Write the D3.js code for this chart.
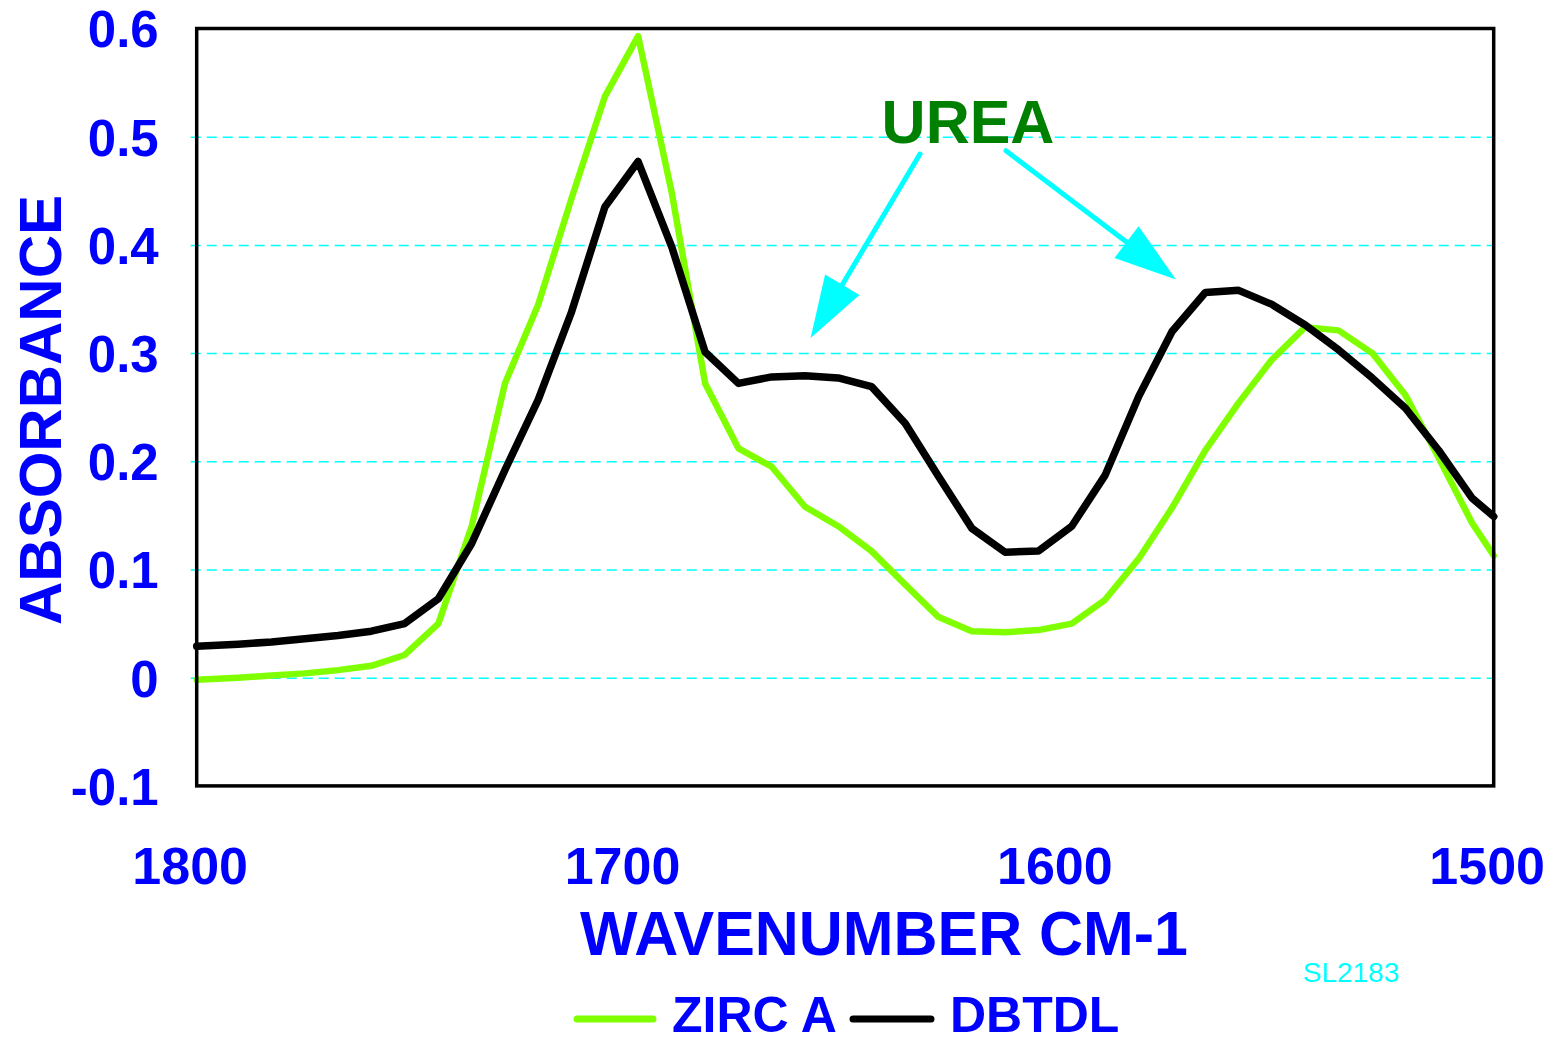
<!DOCTYPE html>
<html>
<head>
<meta charset="utf-8">
<script src="https://cdn.jsdelivr.net/npm/d3@7"></script>
<style>
  body { margin: 0; background: #ffffff; }
  text { font-family: "Liberation Sans", Arial, sans-serif; font-weight: bold; }
</style>
</head>
<body>
<script>
// wavenumbers (cm-1) shared by both spectra
var wavenumbers = [1800, 1790.4, 1782.7, 1775.0, 1767.3, 1759.6, 1751.9, 1744.1, 1736.4, 1728.7,
    1721.0, 1713.3, 1705.6, 1697.9, 1690.1, 1682.4, 1674.7, 1667.0, 1659.3, 1651.6,
    1643.9, 1636.1, 1628.4, 1620.7, 1613.0, 1605.3, 1597.6, 1589.9, 1582.1, 1574.4,
    1566.7, 1559.0, 1551.3, 1543.6, 1535.9, 1528.1, 1520.4, 1512.7, 1505.0, 1500];

var zircA = [-0.002, 0.000, 0.002, 0.004, 0.007, 0.011, 0.021, 0.050, 0.140, 0.272,
    0.345, 0.443, 0.537, 0.593, 0.448, 0.272, 0.212, 0.195, 0.158, 0.140,
    0.117, 0.086, 0.056, 0.043, 0.042, 0.044, 0.050, 0.072, 0.110, 0.157,
    0.210, 0.254, 0.294, 0.324, 0.321, 0.300, 0.261, 0.203, 0.143, 0.113];

var dbtdl = [0.029, 0.031, 0.033, 0.036, 0.039, 0.043, 0.050, 0.073, 0.124, 0.192,
    0.257, 0.338, 0.435, 0.477, 0.398, 0.301, 0.272, 0.278, 0.279, 0.277,
    0.269, 0.235, 0.186, 0.138, 0.116, 0.117, 0.140, 0.187, 0.260, 0.320,
    0.356, 0.358, 0.345, 0.326, 0.303, 0.277, 0.249, 0.210, 0.166, 0.149];

var seriesNames = ["ZIRC A", "DBTDL"];
var xTicks = [1800, 1700, 1600, 1500];
var yTicks = [-0.1, 0, 0.1, 0.2, 0.3, 0.4, 0.5, 0.6];

// arrows pointing at the urea bands: [start wn, start abs, tip wn, tip abs]
var ureaArrows = [[1632.7, 0.484, 1658.0, 0.314], [1612.8, 0.487, 1573.5, 0.368]];

window.onload = function(){
    var w = 1559, h = 1043;
    var left = 196.7, right = 1493.7, top = 28.5, bottom = 785.9;

    var svg = d3.select("body").append("svg")
        .attr("width", w)
        .attr("height", h);

    var x = d3.scaleLinear().domain([1800, 1500]).range([left, right]);
    var y = d3.scaleLinear().domain([-0.1, 0.6]).range([bottom, top]);

    // dashed grid + little ticks
    var grid = svg.append("g")
        .attr("transform", "translate(" + (left - 6) + ",0)")
        .call(d3.axisLeft(y).tickValues(yTicks.filter(function(d){ return d > -0.1 && d < 0.6; }))
            .tickSize(-(right - left + 6)).tickFormat(""));
    grid.select(".domain").remove();
    grid.selectAll("line")
        .attr("stroke", "#00ffff")
        .attr("stroke-width", 1.5)
        .attr("stroke-dasharray", "10,6");

    // y labels
    var yAxis = svg.append("g")
        .attr("transform", "translate(" + left + ",0)")
        .call(d3.axisLeft(y).tickValues(yTicks).tickSize(0).tickPadding(38)
            .tickFormat(function(d){ return d3.format(".1f")(d).replace("0.0", "0").replace("−", "-"); }));
    yAxis.select(".domain").remove();
    yAxis.selectAll("text")
        .attr("fill", "#0000ff")
        .attr("dy", "0.36em")
        .style("font-size", "51px")
        .style("font-family", "Liberation Sans, Arial, sans-serif")
        .style("font-weight", "bold");

    // x labels
    var xAxis = svg.append("g")
        .attr("transform", "translate(0," + bottom + ")")
        .call(d3.axisBottom(x).tickValues(xTicks).tickSize(0).tickFormat(d3.format("d")));
    xAxis.select(".domain").remove();
    xAxis.selectAll("text")
        .attr("fill", "#0000ff")
        .attr("y", 98)
        .attr("dy", 0)
        .attr("dx", -7)
        .style("font-size", "52px")
        .style("font-family", "Liberation Sans, Arial, sans-serif")
        .style("font-weight", "bold");

    // the spectra
    var line = d3.line()
        .x(function(d){ return x(d[0]); })
        .y(function(d){ return y(d[1]); });

    svg.append("path")
        .datum(d3.zip(wavenumbers, zircA))
        .attr("d", line)
        .attr("fill", "none")
        .attr("stroke", "#80ff00")
        .attr("stroke-width", 6.5)
        .attr("stroke-linejoin", "round")
        .attr("stroke-linecap", "round");

    svg.append("path")
        .datum(d3.zip(wavenumbers, dbtdl))
        .attr("d", line)
        .attr("fill", "none")
        .attr("stroke", "#000000")
        .attr("stroke-width", 7.5)
        .attr("stroke-linejoin", "round")
        .attr("stroke-linecap", "round");

    // plot frame
    svg.append("rect")
        .attr("x", left).attr("y", top)
        .attr("width", right - left).attr("height", bottom - top)
        .attr("fill", "none")
        .attr("stroke", "#000")
        .attr("stroke-width", 3.5);

    // UREA annotation
    svg.append("text")
        .attr("x", 968).attr("y", 143)
        .attr("text-anchor", "middle")
        .attr("fill", "#008000")
        .style("font-size", "61px")
        .text("UREA");

    ureaArrows.forEach(function(a){
        var x0 = x(a[0]), y0 = y(a[1]), x1 = x(a[2]), y1 = y(a[3]);
        var len = Math.sqrt((x1 - x0) * (x1 - x0) + (y1 - y0) * (y1 - y0));
        var ux = (x1 - x0) / len, uy = (y1 - y0) / len;
        var headL = 62, headW = 20;
        var bx = x1 - ux * headL, by = y1 - uy * headL;
        svg.append("line")
            .attr("x1", x0).attr("y1", y0)
            .attr("x2", bx).attr("y2", by)
            .attr("stroke", "#00ffff")
            .attr("stroke-width", 5)
            .attr("stroke-linecap", "round");
        svg.append("polygon")
            .attr("points", [[x1, y1], [bx - uy * headW, by + ux * headW], [bx + uy * headW, by - ux * headW]].join(" "))
            .attr("fill", "#00ffff");
    });

    // axis titles
    svg.append("text")
        .attr("transform", "translate(61,410) rotate(-90)")
        .attr("text-anchor", "middle")
        .attr("fill", "#0000ff")
        .style("font-size", "60px")
        .text("ABSORBANCE");

    svg.append("text")
        .attr("x", 884).attr("y", 955)
        .attr("text-anchor", "middle")
        .attr("fill", "#0000ff")
        .attr("textLength", 608)
        .attr("lengthAdjust", "spacingAndGlyphs")
        .style("font-size", "63px")
        .text("WAVENUMBER CM-1");

    svg.append("text")
        .attr("x", 1351).attr("y", 982)
        .attr("text-anchor", "middle")
        .attr("fill", "#00ffff")
        .style("font-weight", "normal")
        .style("font-size", "28px")
        .text("SL2183");

    // legend
    var legend = [
        { name: seriesNames[0], color: "#80ff00", x1: 577, x2: 653, tx: 672 },
        { name: seriesNames[1], color: "#000000", x1: 853, x2: 931, tx: 950 }
    ];
    legend.forEach(function(d){
        svg.append("line")
            .attr("x1", d.x1).attr("x2", d.x2)
            .attr("y1", 1019).attr("y2", 1019)
            .attr("stroke", d.color)
            .attr("stroke-width", 7)
            .attr("stroke-linecap", "round");
        svg.append("text")
            .attr("x", d.tx).attr("y", 1032)
            .attr("fill", "#0000ff")
            .style("font-size", "50px")
            .text(d.name);
    });
};
</script>
</body>
</html>
